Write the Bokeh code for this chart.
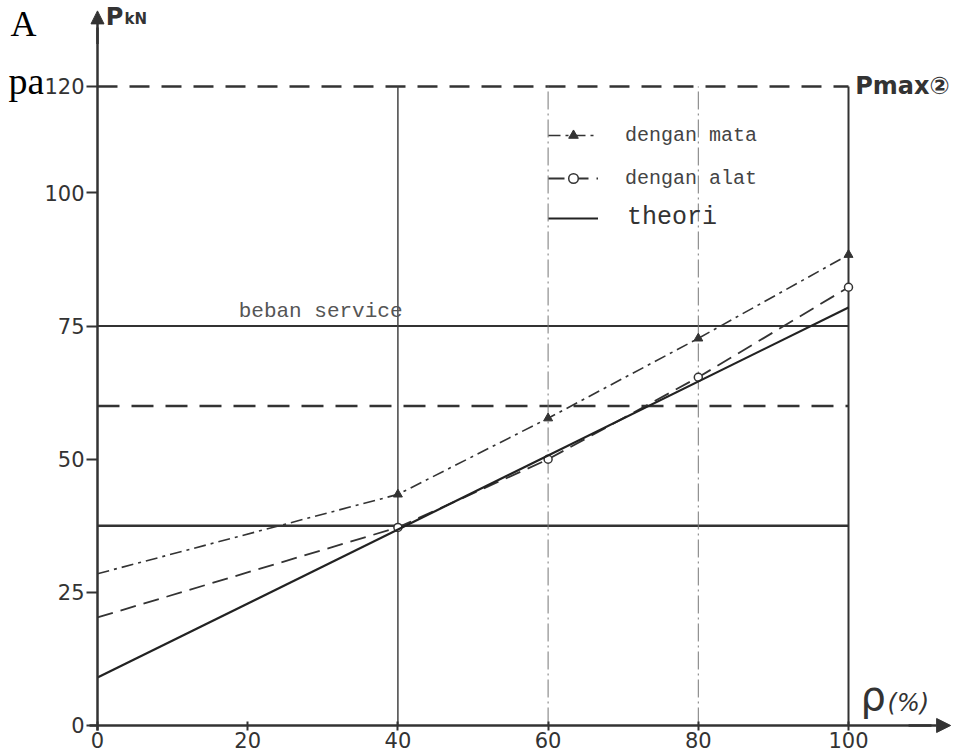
from bokeh.plotting import figure
from bokeh.models import (Arrow, NormalHead, Legend, LegendItem, FixedTicker, Range1d)
from bokeh.embed import file_html
from bokeh.resources import INLINE
from bokeh.core.properties import value

# ---------------- data ----------------
rho = [0, 40, 60, 80, 100]
p_mata = [28.5, 43.4, 57.7, 72.7, 88.4]       # dengan mata
p_alat = [20.3, 37.2, 50.0, 65.4, 82.3]       # dengan alat
theori_rho = [0, 100]
p_theori = [9.0, 78.5]                        # theori
mata_marker_rho = [40, 60, 80, 100]
mata_marker_p = [43.4, 57.7, 72.7, 88.4]
alat_marker_rho = [40, 60, 80, 100]
alat_marker_p = [37.2, 50.0, 65.4, 82.3]

p_max = 120
p_service = 75
p_dashed = 60
p_low = 37.5
v_lines = [40, 60, 80, 100]

x_ticks = [0, 20, 40, 60, 80, 100]
y_ticks = [0, 25, 50, 75, 100, 120]

INK = "#333333"

p = figure(width=962, height=755, output_backend="svg", toolbar_location=None,
           x_range=Range1d(-12.916, 115.18), y_range=Range1d(-5.634, 136.15),
           min_border=0, min_border_left=0, min_border_right=0,
           min_border_top=0, min_border_bottom=0)
p.grid.visible = False
p.outline_line_color = None
p.background_fill_color = "white"

# axes placed at data zero
for ax in (p.xaxis[0], p.yaxis[0]):
    ax.fixed_location = 0
    ax.axis_line_color = INK
    ax.axis_line_width = 2.5
    ax.major_tick_line_color = INK
    ax.major_tick_line_width = 2
    ax.minor_tick_line_color = None
    ax.major_label_text_font = "DejaVu Sans"
    ax.major_label_text_font_size = "21px"
    ax.major_label_text_color = INK
p.xaxis[0].ticker = FixedTicker(ticks=x_ticks)
p.yaxis[0].ticker = FixedTicker(ticks=y_ticks)
p.xaxis[0].major_tick_in = 4
p.xaxis[0].major_tick_out = 5
p.xaxis[0].major_label_standoff = 2
p.yaxis[0].major_tick_in = 0
p.yaxis[0].major_tick_out = 11
p.yaxis[0].major_label_standoff = 2
p.xaxis[0].bounds = (-1, 111)
p.yaxis[0].bounds = (-1, 131)

p.add_layout(Arrow(end=NormalHead(size=14, fill_color=INK, line_color=INK),
                   x_start=108, y_start=0, x_end=113.6, y_end=0,
                   line_color=INK, line_width=2.5))
p.add_layout(Arrow(end=NormalHead(size=13, fill_color=INK, line_color=INK),
                   x_start=0, y_start=128, x_end=0, y_end=134.2,
                   line_color=INK, line_width=2.5))

# reference lines
p.segment(x0=[0], y0=[p_max], x1=[100], y1=[p_max], line_color=INK, line_width=2.5, line_dash="20 12")
p.segment(x0=[0], y0=[p_service], x1=[100], y1=[p_service], line_color=INK, line_width=2)
p.segment(x0=[0], y0=[p_dashed], x1=[100], y1=[p_dashed], line_color=INK, line_width=2.5, line_dash="22 12")
p.segment(x0=[0], y0=[p_low], x1=[100], y1=[p_low], line_color=INK, line_width=2.5)

p.segment(x0=[v_lines[0]], y0=[0], x1=[v_lines[0]], y1=[p_max], line_color="#444444", line_width=1.5)
p.segment(x0=[v_lines[1]], y0=[0], x1=[v_lines[1]], y1=[p_max], line_color="#777777", line_width=1, line_dash="18 4 2 4")
p.segment(x0=[v_lines[2]], y0=[0], x1=[v_lines[2]], y1=[p_max], line_color="#777777", line_width=1, line_dash="18 4 2 4")
p.segment(x0=[v_lines[3]], y0=[0], x1=[v_lines[3]], y1=[p_max], line_color=INK, line_width=2)

# series
l_mata = p.line(rho, p_mata, line_color=INK, line_width=1.6, line_dash="12 5 3 5")
s_mata = p.scatter(mata_marker_rho, mata_marker_p, marker="triangle", size=9,
                   fill_color=INK, line_color=INK)
l_alat = p.line(rho, p_alat, line_color=INK, line_width=1.8, line_dash="16 8")
s_alat = p.scatter(alat_marker_rho, alat_marker_p, marker="circle", size=8,
                   fill_color="white", line_color=INK, line_width=1.5)
l_theori = p.line(theori_rho, p_theori, line_color="#222222", line_width=2.2)

leg1 = Legend(items=[LegendItem(label="dengan mata", renderers=[l_mata, s_mata]),
                     LegendItem(label="dengan alat", renderers=[l_alat, s_alat])],
              location=(548, 565), orientation="vertical",
              glyph_width=50, glyph_height=24, label_height=24, spacing=19,
              label_standoff=27, padding=0, margin=0,
              label_text_font="Liberation Mono", label_text_font_size="20px",
              label_text_color="#444444",
              background_fill_alpha=0, border_line_alpha=0)
leg2 = Legend(items=[LegendItem(label="theori", renderers=[l_theori])],
              location=(548, 523), orientation="vertical",
              glyph_width=50, glyph_height=28, label_height=28, spacing=0,
              label_standoff=29, padding=0, margin=0,
              label_text_font="Liberation Mono", label_text_font_size="25px",
              label_text_color="#333333",
              background_fill_alpha=0, border_line_alpha=0)
p.add_layout(leg1, "center")
p.add_layout(leg2, "center")

# texts
p.text(x=[18.8], y=[77.7], text=["beban service"], text_font=value("Liberation Mono"),
       text_font_size="21px", text_color="#555555", text_baseline="middle")
p.text(x=[100.9], y=[p_max], text=["Pmax\u2461"], text_font=value("DejaVu Sans"),
       text_font_size="24px", text_font_style="bold", text_color=INK, text_baseline="middle")
p.text(x=[1.1], y=[133.0], text=["P"], text_font=value("DejaVu Sans"),
       text_font_size="24px", text_font_style="bold", text_color=INK, text_baseline="middle")
p.text(x=[3.6], y=[132.6], text=["kN"], text_font=value("DejaVu Sans"),
       text_font_size="15px", text_font_style="bold", text_color=INK, text_baseline="middle")
p.text(x=[101.6], y=[5.5], text=["\u03c1"], text_font=value("DejaVu Sans"),
       text_font_size="40px", text_color=INK, text_baseline="middle")
p.text(x=[105.2], y=[4.3], text=["(%)"], text_font=value("DejaVu Sans"),
       text_font_size="24px", text_font_style="italic", text_color=INK, text_baseline="middle")

# page text partially hidden behind the chart
p.text(x=[-11.58], y=[131.8], text=["A"], text_font=value("Liberation Serif"),
       text_font_size="36px", text_color="black", text_baseline="middle")
p.text(x=[-11.85], y=[121.0], text=["pa"], text_font=value("Liberation Serif"),
       text_font_size="38px", text_color="black", text_baseline="middle", level="image")
p.quad(left=[-7.19], right=[-1.0], bottom=[114.0], top=[127.0],
       fill_color="white", line_color=None, level="underlay")

open("out.html", "w").write(file_html(p, INLINE))
